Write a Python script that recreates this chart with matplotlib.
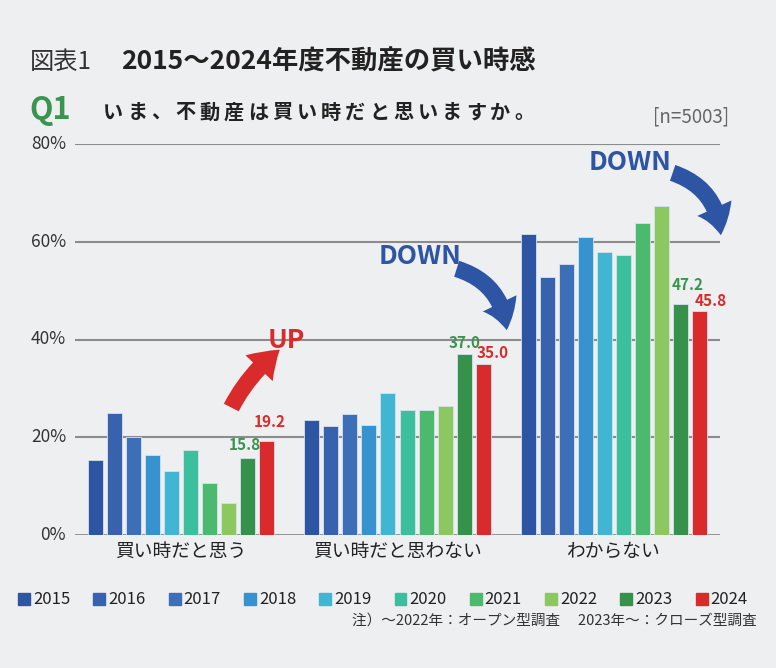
import matplotlib
matplotlib.use('Agg')
import matplotlib.pyplot as plt
from matplotlib.patches import Rectangle, FancyArrowPatch
import numpy as np

plt.rcParams['font.family'] = ['Noto Sans CJK JP', 'DejaVu Sans']

# data
categories = ['買い時だと思う', '買い時だと思わない', 'わからない']
years = ['2015', '2016', '2017', '2018', '2019', '2020', '2021', '2022', '2023', '2024']
values = {
    '2015': [15.3, 23.5, 61.6],
    '2016': [24.9, 22.4, 52.8],
    '2017': [20.0, 24.8, 55.5],
    '2018': [16.3, 22.6, 61.0],
    '2019': [13.1, 29.0, 58.0],
    '2020': [17.4, 25.6, 57.3],
    '2021': [10.6, 25.6, 63.9],
    '2022': [6.5, 26.4, 67.3],
    '2023': [15.8, 37.0, 47.2],
    '2024': [19.2, 35.0, 45.8],
}
colors = ['#2e55a4', '#3862ad', '#3d6fb8', '#3792d0', '#41b6d3',
          '#3bbf9c', '#4bb96e', '#8cc860', '#36924b', '#d92b2b']
yticks = [0, 20, 40, 60, 80]

W, H = 776, 668
bg = '#eeeff1'
fig = plt.figure(figsize=(W / 100, H / 100), dpi=100, facecolor=bg)


def fx(x):
    return x / W


def fy(y):
    return 1 - y / H


ax = fig.add_axes([fx(75), fy(535), (720 - 75) / W, (535 - 144) / H])
ax.set_facecolor(bg)

slot = 19 / 216
bw = 15 / 216
gx = np.arange(len(categories))
for i, yr in enumerate(years):
    xs = gx + (i - 4.5) * slot
    ax.bar(xs, values[yr], width=bw, color=colors[i], edgecolor='#d6e2ee',
           linewidth=0.6, zorder=3)

ax.set_xlim(-0.49, 2.49)
ax.set_ylim(0, 80)
for t in yticks:
    ax.axhline(t, color='#8c8c8c', lw=2.0 if t == 0 else 1.5, zorder=1)
for s in ax.spines.values():
    s.set_visible(False)
ax.set_xticks([])
ax.set_yticks([])

for t in yticks:
    fig.text(fx(66), fy(535 - t * 391 / 80), f'{t}%', ha='right', va='center',
             fontsize=12.5, color='#333333')

for g, c in enumerate(categories):
    fig.text(fx(181 + g * 216.5), fy(551), c, ha='center', va='center',
             fontsize=13.5, color='#222222')

# value labels for 2023 / 2024 (offsets in points from bar top)
label_offsets = {
    8: [(-2, 9), (0, 8), (5, 14)],
    9: [(2, 14), (7, 8), (8, 7)],
}
for i, col in ((8, '#3a9450'), (9, '#d92b2b')):
    for g in range(3):
        v = values[years[i]][g]
        x = g + (i - 4.5) * slot
        dx, dy = label_offsets[i][g]
        ax.annotate(f'{v:.1f}', (x, v), xytext=(dx, dy),
                    textcoords='offset points', ha='center', va='center',
                    fontsize=11, fontweight='bold', color=col, zorder=5)

# titles
fig.text(fx(30), fy(62), '図表1', ha='left', va='center', fontsize=17.5,
         color='#333333')
fig.text(fx(121), fy(62), '2015～2024年度不動産の買い時感', ha='left',
         va='center', fontsize=19, fontweight='bold', color='#222222')
fig.text(fx(29), fy(110), 'Q1', ha='left', va='center', fontsize=22,
         fontweight='bold', color='#3a9450')
question = 'いま、不動産は買い時だと思いますか。'
for k, ch in enumerate(question):
    fig.text(fx(103 + k * 24.2), fy(112), ch, ha='left', va='center',
             fontsize=14.5, fontweight='bold', color='#222222')
fig.text(fx(729), fy(117), '[n=5003]', ha='right', va='center', fontsize=13.5,
         color='#666666')

# arrows and annotations
red = '#d92b2b'
blue = '#2e55a4'
fig.text(fx(286), fy(340), 'UP', ha='center', va='center', fontsize=19,
         fontweight='bold', color=red)
fig.text(fx(420), fy(257), 'DOWN', ha='center', va='center', fontsize=19,
         fontweight='bold', color=blue)
fig.text(fx(630), fy(162), 'DOWN', ha='center', va='center', fontsize=19,
         fontweight='bold', color=blue)

style = 'simple, head_width=27, head_length=20, tail_width=12'
arrows = [
    ((230, 410), (282, 348), red, -0.12),
    ((454, 268), (507, 333), blue, -0.35),
    ((670, 172), (721, 238), blue, -0.35),
]
for (x0, y0), (x1, y1), col, rad in arrows:
    a = FancyArrowPatch((fx(x0), fy(y0)), (fx(x1), fy(y1)),
                        transform=fig.transFigure, arrowstyle=style,
                        connectionstyle=f'arc3,rad={rad}', color=col,
                        mutation_scale=1, lw=0)
    fig.patches.append(a)

# legend
for i, yr in enumerate(years):
    x0 = 18 + i * 75.3
    fig.patches.append(Rectangle((fx(x0), fy(605)), 12 / W, 12 / H,
                                 transform=fig.transFigure, color=colors[i]))
    fig.text(fx(x0 + 15), fy(599), yr, ha='left', va='center', fontsize=12,
             color='#222222')

fig.text(fx(757), fy(621), '注）～2022年：オープン型調査　 2023年～：クローズ型調査',
         ha='right', va='center', fontsize=10.5, color='#333333')

fig.savefig('out.png', dpi=100, facecolor=bg)
